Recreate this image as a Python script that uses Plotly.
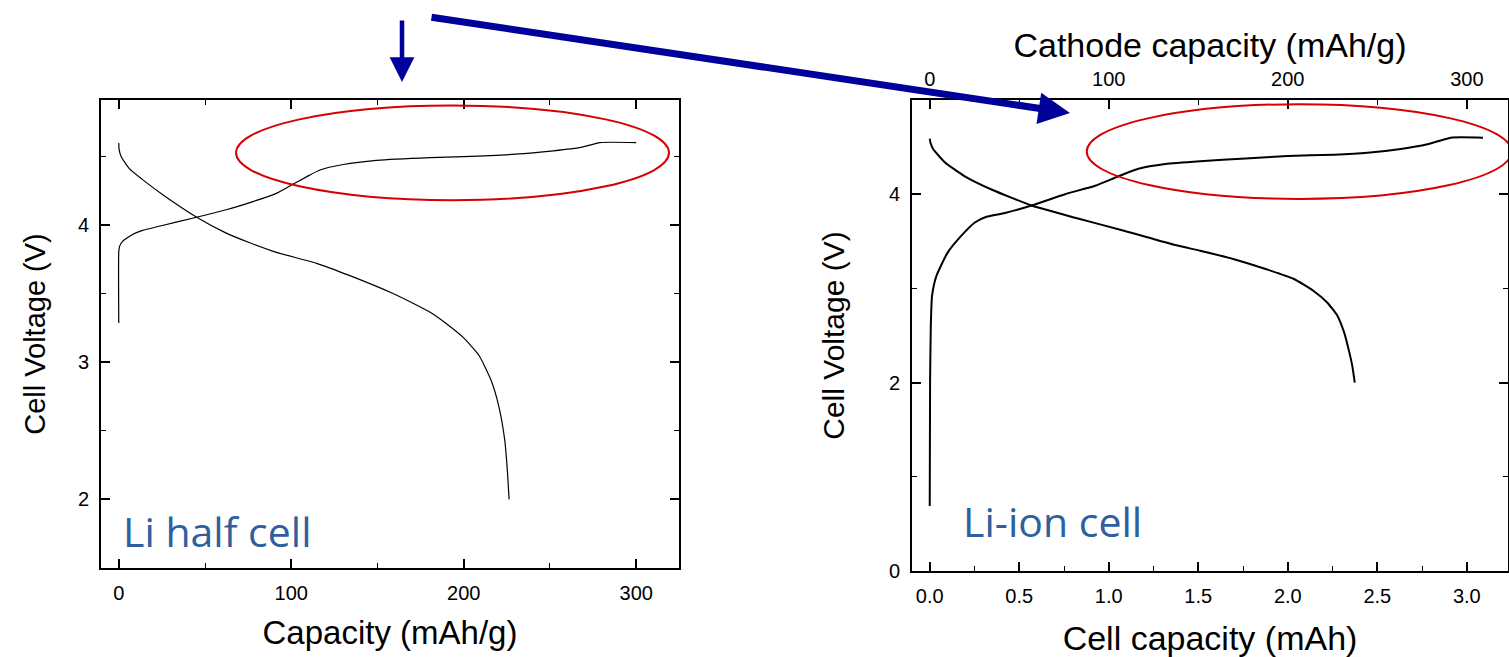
import plotly.graph_objects as go

W, H = 1509, 657

# ---- Li half cell (left panel): capacity mAh/g vs voltage V ----
half_charge_cap = [0, 0, 0.5, 2.2, 8.0, 13.8, 23.5, 45.2, 62.3, 77.8, 91.4, 100.1, 108.8, 116.6, 130.1, 149.5, 180.5, 200, 230, 252, 268, 279, 300]
half_charge_v = [3.286, 3.805, 3.845, 3.88, 3.93, 3.96, 3.99, 4.056, 4.11, 4.17, 4.23, 4.29, 4.35, 4.40, 4.44, 4.47, 4.49, 4.497, 4.515, 4.54, 4.565, 4.60, 4.60]
half_dis_cap = [0, 0.2, 1.3, 6.1, 13.8, 25.5, 45.2, 62.3, 75.9, 91.4, 114.7, 134, 159, 172, 181, 190, 199.7, 208.8, 215.8, 220.3, 223.8, 225.4, 226.3]
half_dis_v = [4.597, 4.55, 4.50, 4.41, 4.33, 4.22, 4.056, 3.94, 3.87, 3.80, 3.72, 3.63, 3.50, 3.42, 3.36, 3.28, 3.18, 3.05, 2.87, 2.68, 2.43, 2.19, 2.00]

# ---- Li-ion cell (right panel): cell capacity mAh vs voltage V ----
ion_charge_cap = [0, 0.002, 0.006, 0.013, 0.037, 0.10, 0.177, 0.252, 0.317, 0.42, 0.569, 0.756, 0.924, 1.054, 1.166, 1.316, 1.51, 1.764, 2.0, 2.258, 2.445, 2.632, 2.78, 2.91, 3.09]
ion_charge_v = [0.69, 2.0, 2.6, 2.92, 3.13, 3.38, 3.56, 3.70, 3.76, 3.80, 3.88, 4.00, 4.09, 4.19, 4.27, 4.32, 4.35, 4.38, 4.405, 4.42, 4.44, 4.48, 4.53, 4.60, 4.60]
ion_dis_cap = [0, 0.005, 0.019, 0.084, 0.196, 0.345, 0.569, 0.812, 1.09, 1.372, 1.51, 1.70, 1.885, 2.034, 2.146, 2.22, 2.277, 2.315, 2.34, 2.36, 2.374]
ion_dis_v = [4.59, 4.54, 4.48, 4.34, 4.19, 4.05, 3.88, 3.75, 3.61, 3.46, 3.40, 3.31, 3.20, 3.10, 2.97, 2.85, 2.71, 2.53, 2.35, 2.18, 2.00]

# tick labels
half_x_ticks = [0, 100, 200, 300]
half_y_ticks = [2, 3, 4]
ion_x_ticks = [0.0, 0.5, 1.0, 1.5, 2.0, 2.5, 3.0]
ion_y_ticks = [0, 2, 4]
cathode_ticks = [0, 100, 200, 300]
mAh_per_g_scale = 100  # cathode capacity (mAh/g) per cell mAh

# highlighted plateau regions (ellipses) in data units
half_ellipse = dict(x0=68, x1=319, y0=4.18, y1=4.87)
ion_ellipse = dict(x0=0.877, x1=3.25, y0=3.95, y1=4.955)

AX_FONT = "Liberation Sans, Arial, sans-serif"
LABEL_FONT = "Open Sans, sans-serif"
LBL_COLOR = "#2f5f9e"
ARROW_COLOR = "#00009a"
RED = "#d60000"

def px_x(p):
    return p / W

def px_y(p):
    return 1 - p / H

thin = dict(color="black", width=1.2, shape="spline", smoothing=0.5)
thick = dict(color="black", width=2, shape="spline", smoothing=0.5)

fig = go.Figure()
fig.add_trace(go.Scatter(x=half_charge_cap, y=half_charge_v, mode="lines", line=thin, xaxis="x", yaxis="y", showlegend=False))
fig.add_trace(go.Scatter(x=half_dis_cap, y=half_dis_v, mode="lines", line=thin, xaxis="x", yaxis="y", showlegend=False))
fig.add_trace(go.Scatter(x=ion_charge_cap, y=ion_charge_v, mode="lines", line=thick, xaxis="x2", yaxis="y2", showlegend=False))
fig.add_trace(go.Scatter(x=ion_dis_cap, y=ion_dis_v, mode="lines", line=thick, xaxis="x2", yaxis="y2", showlegend=False))
# invisible trace so that the top cathode axis is drawn
fig.add_trace(go.Scatter(x=[c * mAh_per_g_scale for c in ion_dis_cap[:1]], y=ion_dis_v[:1], mode="markers", marker=dict(opacity=0), xaxis="x3", yaxis="y2", showlegend=False, hoverinfo="skip"))

x2_range = [-0.099, 3.23]

common_tick = dict(ticks="inside", ticklen=9, tickwidth=1.5, tickcolor="black",
                   showline=True, linecolor="black", linewidth=1.8, showgrid=False, zeroline=False,
                   tickfont=dict(family=AX_FONT, size=20, color="black"), automargin=False)

fig.update_layout(
    width=W, height=H,
    margin=dict(l=0, r=0, t=0, b=0),
    paper_bgcolor="white", plot_bgcolor="white",
    xaxis=dict(domain=[px_x(101), px_x(679)], range=[-10.3, 324.8], anchor="y",
               tickvals=half_x_ticks, mirror="ticks",
               minor=dict(dtick=50, tick0=0, ticks="inside", ticklen=5, tickcolor="black", tickwidth=1.2),
               title=dict(text="Capacity (mAh/g)", font=dict(family=AX_FONT, size=33, color="black"), standoff=18),
               ticklabelstandoff=6, **common_tick),
    yaxis=dict(domain=[px_y(568), px_y(100)], range=[1.5, 4.91], anchor="x",
               tickvals=half_y_ticks, mirror="ticks",
               minor=dict(dtick=0.5, tick0=0, ticks="inside", ticklen=5, tickcolor="black", tickwidth=1.2),
               title=dict(text="Cell Voltage (V)", font=dict(family=AX_FONT, size=29, color="black"), standoff=24),
               ticklabelstandoff=6, **common_tick),
    xaxis2=dict(domain=[px_x(912), px_x(1508)], range=x2_range, anchor="y2",
                tickvals=ion_x_ticks, ticktext=[f"{v:.1f}" for v in ion_x_ticks], mirror=True,
                minor=dict(dtick=0.25, tick0=0, ticks="inside", ticklen=5, tickcolor="black", tickwidth=1.2),
                title=dict(text="Cell capacity (mAh)", font=dict(family=AX_FONT, size=34, color="black"), standoff=21),
                ticklabelstandoff=6, **common_tick),
    xaxis3=dict(overlaying="x2", side="top", anchor="y2", range=[v * mAh_per_g_scale for v in x2_range],
                tickvals=cathode_ticks,
                minor=dict(dtick=50, tick0=0, ticks="inside", ticklen=5, tickcolor="black", tickwidth=1.2),
                title=dict(text="Cathode capacity (mAh/g)", font=dict(family=AX_FONT, size=34, color="black"), standoff=0),
                ticklabelstandoff=4, **common_tick),
    yaxis2=dict(domain=[px_y(571), px_y(100)], range=[0, 5.0], anchor="x2",
                tickvals=ion_y_ticks, mirror="ticks",
                minor=dict(dtick=1, tick0=0, ticks="inside", ticklen=5, tickcolor="black", tickwidth=1.2),
                title=dict(text="Cell Voltage (V)", font=dict(family=AX_FONT, size=30, color="black"), standoff=35),
                ticklabelstandoff=6, **common_tick),
)

fig.add_shape(type="circle", xref="x", yref="y", line=dict(color=RED, width=2), **half_ellipse)
fig.add_shape(type="circle", xref="x2", yref="y2", line=dict(color=RED, width=2), **ion_ellipse)

fig.add_annotation(text="Li half cell", x=px_x(121), y=px_y(531), xref="paper", yref="paper",
                   xanchor="left", yanchor="middle", showarrow=False,
                   font=dict(family=LABEL_FONT, size=41, color=LBL_COLOR))
fig.add_annotation(text="Li-ion cell", x=px_x(961), y=px_y(521), xref="paper", yref="paper",
                   xanchor="left", yanchor="middle", showarrow=False,
                   font=dict(family=LABEL_FONT, size=41, color=LBL_COLOR))

# arrows
fig.add_annotation(text="", x=px_x(402), y=px_y(82), xref="paper", yref="paper",
                   ax=0, ay=-63, axref="pixel", ayref="pixel", showarrow=True,
                   arrowhead=2, arrowsize=1.1, arrowwidth=4.5, arrowcolor=ARROW_COLOR, standoff=0)
fig.add_annotation(text="", x=px_x(1070), y=px_y(113), xref="paper", yref="paper",
                   ax=-640, ay=-96, axref="pixel", ayref="pixel", showarrow=True,
                   arrowhead=2, arrowsize=0.9, arrowwidth=7, arrowcolor=ARROW_COLOR, standoff=0)

fig.write_html("out.html", config={"displayModeBar": False},
               post_script="document.body.style.margin='0px';document.body.style.overflow='hidden';")
